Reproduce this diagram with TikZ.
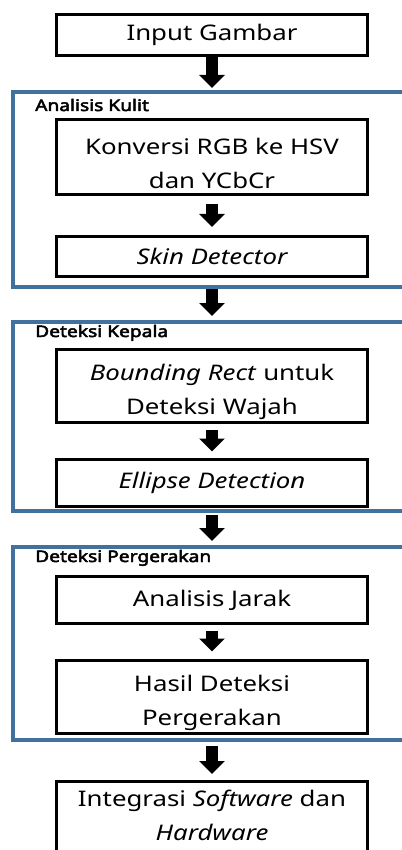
\documentclass[tikz,border=0pt]{standalone}
\usepackage{fontspec}
\setmainfont{Noto Sans}[FakeStretch=1.2]
\newfontfamily\grouplabelfont{Noto Sans}[FakeStretch=1.2,FakeBold=3]
\usetikzlibrary{arrows.meta,calc}
\definecolor{groupblue}{RGB}{65,113,156}
\newcommand{\firstlinestrut}{\rule{0pt}{29pt}}
\begin{document}
\begin{tikzpicture}[x=1pt,y=-1pt,
  stepbox/.style={draw=black,line width=3pt,fill=white,minimum width=311pt,
    align=center,inner sep=0pt,font=\fontsize{21.5pt}{34pt}\selectfont},
  groupbox/.style={draw=groupblue,line width=4pt,minimum width=427.5pt,inner sep=0pt},
  grouplabel/.style={anchor=base west,inner sep=0pt,font=\grouplabelfont\fontsize{16pt}{18pt}\selectfont},
  blk/.style={line width=12pt,-{Triangle[length=13pt,width=25pt]}}]
\useasboundingbox (0,0) rectangle (401,850);
\fill[white] (0,0) rectangle (401,850);

% groups
\node[groupbox,minimum height=194.5pt] (c1) at (226.25,189.25) {};
\node[groupbox,minimum height=189pt]   (c2) at (226.25,416.5) {};
\node[groupbox,minimum height=193pt]   (c3) at (226.25,643.5) {};
\node[grouplabel] (l1) at (35,111) {Analisis Kulit};
\node[grouplabel] (l2) at (35,337) {Deteksi Kepala};
\node[grouplabel] (l3) at (35,562) {Deteksi Pergerakan};

% steps
\node[stepbox,minimum height=41pt] (b0) at (212,35) {Input Gambar};
\node[stepbox,minimum height=75pt] (b1) at (212,157) {\firstlinestrut Konversi RGB ke HSV\\dan YCbCr};
\node[stepbox,minimum height=40pt] (b2) at (212,256.5) {\itshape Skin Detector};
\node[stepbox,minimum height=73pt] (b3) at (212,386) {\firstlinestrut\textit{Bounding Rect} untuk\\Deteksi Wajah};
\node[stepbox,minimum height=47pt] (b4) at (212,483) {\itshape Ellipse Detection};
\node[stepbox,minimum height=47pt] (b5) at (212,600) {Analisis Jarak};
\node[stepbox,minimum height=73pt] (b6) at (212,697) {\firstlinestrut Hasil Deteksi\\Pergerakan};
\node[stepbox,minimum height=100pt,anchor=north] (b7) at (212,779.5) {\rule{0pt}{25pt}Integrasi \textit{Software} dan\\\textit{Hardware}\\[17pt]};

% connectors
\draw[blk] (b0.south) -- ([yshift=2pt]c1.north -| b0.south);
\draw[blk] ([yshift=-8pt]b1.south) -- ([yshift=8pt]b2.north);
\draw[blk] (c1.south -| b2.south) -- ([yshift=4pt]c2.north -| b2.south);
\draw[blk] ([yshift=-6pt]b3.south) -- ([yshift=6.5pt]b4.north);
\draw[blk] ([yshift=-2pt]c2.south -| b4.south) -- ([yshift=4pt]c3.north -| b4.south);
\draw[blk] ([yshift=-5.5pt]b5.south) -- ([yshift=7.5pt]b6.north);
\draw[blk] ([yshift=-4pt]c3.south -| b6.south) -- ([yshift=5.5pt]b7.north);
\end{tikzpicture}
\end{document}
